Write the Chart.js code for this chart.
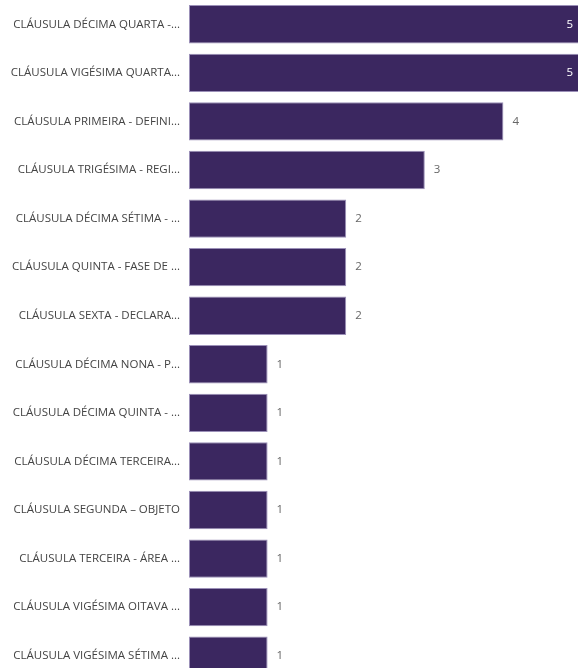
<!DOCTYPE html>
<html><head><meta charset="utf-8">
<script src="https://cdn.jsdelivr.net/npm/chart.js@4"></script>
<style>html,body{margin:0;padding:0;background:#fff;overflow:hidden;width:578px;height:668px}#wrap{width:582px;height:680px;position:relative}</style>
</head><body><div id="wrap"><canvas id="c"></canvas></div>
<script>
const categories = [
  "CLÁUSULA DÉCIMA QUARTA -...",
  "CLÁUSULA VIGÉSIMA QUARTA...",
  "CLÁUSULA PRIMEIRA - DEFINI...",
  "CLÁUSULA TRIGÉSIMA - REGI...",
  "CLÁUSULA DÉCIMA SÉTIMA - ...",
  "CLÁUSULA QUINTA - FASE DE ...",
  "CLÁUSULA SEXTA - DECLARA...",
  "CLÁUSULA DÉCIMA NONA - P...",
  "CLÁUSULA DÉCIMA QUINTA - ...",
  "CLÁUSULA DÉCIMA TERCEIRA...",
  "CLÁUSULA SEGUNDA – OBJETO",
  "CLÁUSULA TERCEIRA - ÁREA ...",
  "CLÁUSULA VIGÉSIMA OITAVA ...",
  "CLÁUSULA VIGÉSIMA SÉTIMA ..."
];
const counts = [5, 5, 4, 3, 2, 2, 2, 1, 1, 1, 1, 1, 1, 1];
const axisMax = 5;

const valueLabels = {
  id: 'valueLabels',
  afterDatasetsDraw(chart) {
    const ctx = chart.ctx;
    const meta = chart.getDatasetMeta(0);
    ctx.save();
    ctx.font = '11.5px "Open Sans", sans-serif';
    ctx.textBaseline = 'middle';
    meta.data.forEach((bar, i) => {
      const v = counts[i];
      if (v >= axisMax) {
        ctx.fillStyle = '#ffffff';
        ctx.textAlign = 'right';
        ctx.fillText(String(v), bar.x - 9, bar.y);
      } else {
        ctx.fillStyle = '#666666';
        ctx.textAlign = 'left';
        ctx.fillText(String(v), bar.x + 9, bar.y);
      }
    });
    ctx.restore();
  }
};

new Chart(document.getElementById('c'), {
  type: 'bar',
  data: {
    labels: categories,
    datasets: [{
      data: counts,
      backgroundColor: '#3b2760',
      borderColor: '#9b90b8',
      borderWidth: 1,
      borderSkipped: false,
      categoryPercentage: 1,
      barPercentage: 0.79
    }]
  },
  options: {
    indexAxis: 'y',
    responsive: true,
    maintainAspectRatio: false,
    animation: false,
    layout: { padding: 0 },
    plugins: { legend: { display: false }, tooltip: { enabled: false } },
    scales: {
      x: { display: false, min: 0, max: axisMax, grid: { display: false } },
      y: {
        grid: { display: false },
        border: { display: false },
        ticks: { color: '#444444', padding: 1, font: { family: '"Open Sans", sans-serif', size: 11.5 } },
        afterFit(scale) { scale.width = 189; scale.paddingTop = 0; scale.paddingBottom = 0; }
      }
    }
  },
  plugins: [valueLabels]
});
</script></body></html>
